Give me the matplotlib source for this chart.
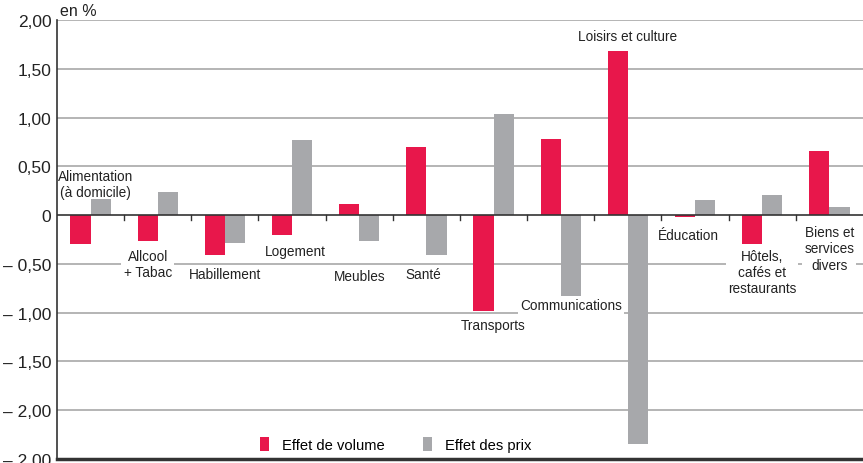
import numpy as np
import matplotlib
matplotlib.use("Agg")
from matplotlib import pyplot as plt
from matplotlib.ticker import FixedLocator

plt.rcParams['font.family'] = ['Liberation Sans', 'DejaVu Sans']

# données
categories = ["Alimentation\n(à domicile)", "Allcool\n+ Tabac", "Habillement", "Logement",
              "Meubles", "Santé", "Transports", "Communications", "Loisirs et culture",
              "Éducation", "Hôtels,\ncafés et\nrestaurants", "Biens et\nservices\ndivers"]
effet_volume = [-0.30, -0.27, -0.41, -0.20, 0.11, 0.70, -0.98, 0.78, 1.68, -0.02, -0.30, 0.66]
effet_prix = [0.17, 0.24, -0.29, 0.77, -0.26, -0.41, 1.04, -0.83, -2.35, 0.16, 0.21, 0.08]
# position des étiquettes (décalage en x, hauteur en %)
label_dx = [0.07, -0.15, 0.0, 0.05, 0.0, -0.05, 0.0, 0.15, 0.0, -0.1, 0.0, 0.0]
label_y = [0.32, -0.50, -0.60, -0.37, -0.62, -0.60, -1.13, -0.92, 1.84, -0.20, -0.58, -0.34]
yticks = [2.0, 1.5, 1.0, 0.5, 0.0, -0.5, -1.0, -1.5, -2.0, -2.5]
ytick_labels = ["2,00", "1,50", "1,00", "0,50", "0", "– 0,50", "– 1,00", "– 1,50", "– 2,00", "– 2,00"]

rouge = "#E8174B"
gris = "#A7A8AB"

fig = plt.figure(figsize=(8.63, 4.64), dpi=100)
ax = fig.add_axes([0.066, 0.0086, 0.934, 0.946])

x = np.arange(len(categories))
w = 0.3
ax.bar(x - 0.15, effet_volume, w, color=rouge, label="Effet de volume", zorder=3)
ax.bar(x + 0.15, effet_prix, w, color=gris, label="Effet des prix", zorder=3)

ax.set_xlim(-0.5, len(categories) - 0.5)
ax.set_ylim(-2.5, 2.0)

# grille horizontale
for v in yticks:
    if v == 0 or v == -2.5:
        continue
    ax.axhline(v, color="#B4B4B4", lw=1.4, zorder=1)
ax.axhline(0, color="#333333", lw=1.2, zorder=4)
ax.axhline(-2.5, color="#333333", lw=2.5, zorder=4, clip_on=False)

ax.yaxis.set_major_locator(FixedLocator(yticks))
ax.set_yticklabels(ytick_labels)
ax.tick_params(axis="y", length=0, labelsize=12.5, pad=4, colors="#222222")
ax.set_xticks([])

# petites graduations sur l'axe zéro
for b in np.arange(0.5, len(categories) - 0.5, 1.0):
    ax.plot([b, b], [0, -0.05], color="#333333", lw=1, zorder=4)

for s in ["top", "right", "bottom"]:
    ax.spines[s].set_visible(False)
ax.spines["left"].set_color("#333333")
ax.spines["left"].set_linewidth(1.2)

for i, lab in enumerate(categories):
    ax.text(x[i] + label_dx[i], label_y[i], lab, ha="center", va="center", fontsize=9.8,
            linespacing=1.2, color="#222222", zorder=2,
            bbox=dict(facecolor="white", edgecolor="none", pad=1.5))

ax.text(0.004, 1.005, "en %", transform=ax.transAxes, ha="left", va="bottom", fontsize=11.5,
        color="#222222")

leg = ax.legend(loc="center", bbox_to_anchor=(0.42, 0.034), ncol=2, frameon=False,
                fontsize=10.6, handlelength=0.6, handleheight=1.1, columnspacing=2.6,
                handletextpad=0.9)

fig.savefig("out.png", dpi=100)
